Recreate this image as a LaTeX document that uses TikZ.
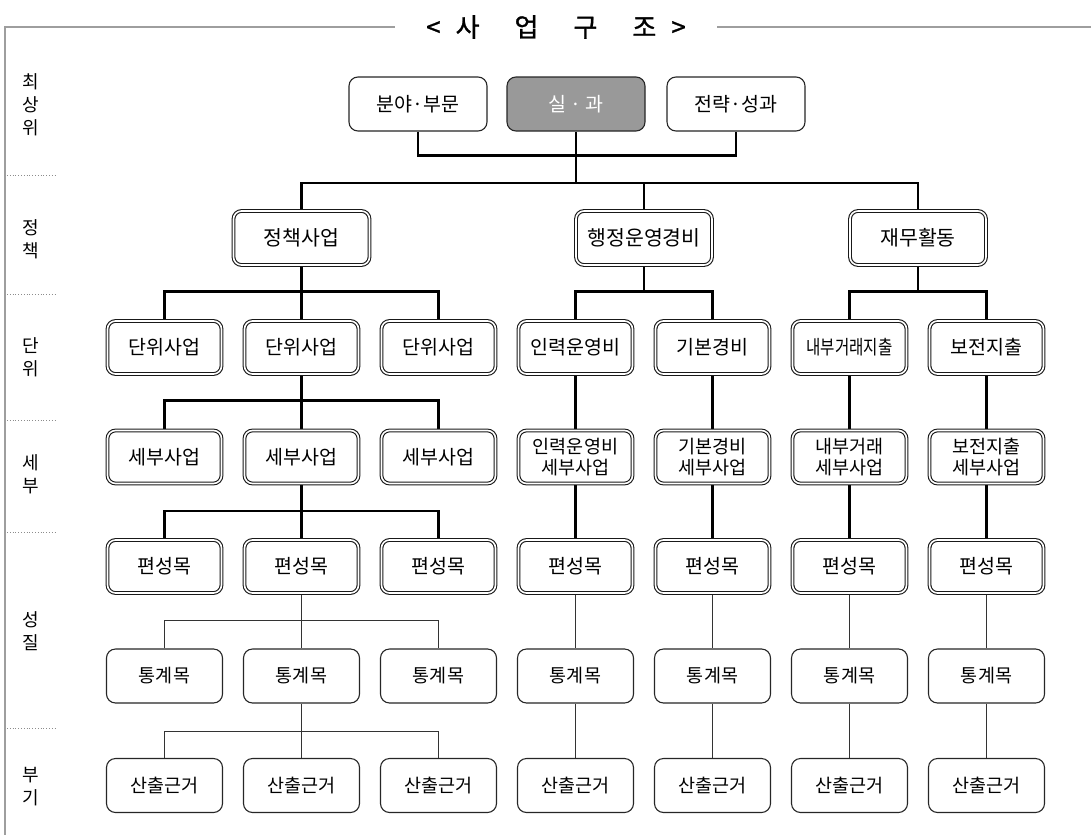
\documentclass[tikz,border=0pt]{standalone}
\usepackage{fontspec}
\setmainfont{Noto Sans CJK KR}
\newfontfamily\titlefont[FakeBold=1.2]{Noto Sans CJK KR}
\usetikzlibrary{positioning,backgrounds}

\begin{document}
\begin{tikzpicture}[x=1pt, y=1pt,
node distance=109.5pt and 137pt, on grid,
topbox/.style={rectangle, draw=black!85, fill=white, line width=1.1pt, rounded corners=9pt, minimum width=138pt, minimum height=54pt, font=\fontsize{19.5}{21}\selectfont},
headbox/.style={topbox, fill=black!40, text=white},
policybox/.style={rectangle, draw=black!90, fill=white, double=white, double distance=1.6pt, line width=1.1pt, rounded corners=8pt, minimum width=136pt, minimum height=54pt, font=\fontsize{20.5}{22}\selectfont},
levelbox/.style={policybox, minimum width=114pt, minimum height=53pt, inner sep=1pt, font=\fontsize{19.5}{20.5}\selectfont},
twoline/.style={levelbox, font=\fontsize{18.5}{20.5}\selectfont},
itembox/.style={rectangle, draw=black!85, fill=white, line width=1.1pt, rounded corners=9pt, minimum width=116pt, minimum height=54pt, font=\fontsize{18.5}{21}\selectfont},
bus/.style={draw=black, line width=2.2pt},
thinbus/.style={draw=black!80, line width=1.2pt},
sidelabel/.style={font=\fontsize{18}{23}\selectfont},
sepline/.style={draw=black!45, dotted, line width=0.8pt},
frameline/.style={draw=black!38, line width=2.2pt},
nodes = {align = center}
]
\useasboundingbox (0,0) rectangle (1091,-835);

%Title and frame
\node (title) at (556,-27) {\titlefont\fontsize{26}{28}\selectfont <\hspace{15pt}사\hspace{35pt}업\hspace{35pt}구\hspace{35pt}조\hspace{15pt}>};
\draw[frameline] ([xshift=-28pt]title.west) -| (5,-835);
\draw[frameline] ([xshift=28pt]title.east) -- (1091,-27);

%Levels
\node[sidelabel] (lvtop)    at (31,-105) {최\\상\\위};
\node[sidelabel] (lvpolicy) at (31,-239) {정\\책};
\node[sidelabel] (lvunit)   at (31,-357) {단\\위};
\node[sidelabel] (lvdetail) at (31,-474) {세\\부};
\node[sidelabel] (lvnature) at (31,-631) {성\\질};
\node[sidelabel] (lvextra)  at (31,-787) {부\\기};
\foreach \sy in {175,294,420,532,728}
  \draw[sepline] (7,-\sy) -- (57,-\sy);

%Nodes
\node[headbox]   (office)  at (576,-104)           {실 · 과};
\node[topbox]    (field)   [left=158pt of office]  {분야·부문};
\node[topbox]    (strat)   [right=160pt of office] {전략·성과};

\node[levelbox]  (u1) at (164.5,-347.5) {단위사업};
\node[levelbox]  (u2) [right=of u1] {단위사업};
\node[levelbox]  (u3) [right=of u2] {단위사업};
\node[levelbox]  (u4) [right=of u3] {인력운영비};
\node[levelbox]  (u5) [right=of u4] {기본경비};
\node[levelbox]  (u6) [right=of u5] {\scalebox{0.8}[1]{내부거래지출}};
\node[levelbox]  (u7) [right=of u6] {보전지출};

\node[policybox] (policy)  [above=of u2] {정책사업};
\node[policybox] (admin)   [above=of u4, xshift=68.5pt] {행정운영경비};
\node[policybox] (finance) [above=of u6, xshift=68.5pt] {재무활동};

\node[levelbox]  (d1) [below=of u1] {세부사업};
\node[levelbox]  (d2) [below=of u2] {세부사업};
\node[levelbox]  (d3) [below=of u3] {세부사업};
\node[twoline]   (d4) [below=of u4] {인력운영비\\세부사업};
\node[twoline]   (d5) [below=of u5] {기본경비\\세부사업};
\node[twoline]   (d6) [below=of u6] {내부거래\\세부사업};
\node[twoline]   (d7) [below=of u7] {보전지출\\세부사업};

\foreach \i in {1,...,7}{
  \node[levelbox] (f\i) [below=of d\i] {편성목};
  \node[itembox]  (s\i) [below=of f\i] {통계목};
  \node[itembox]  (b\i) [below=of s\i] {산출근거};
}

%Lines
\begin{scope}[on background layer]
\draw[bus] (field.south) |- ([yshift=-24pt]office.south) -| (strat.south);
\draw[bus] (office.south) -- ++(0,-51.5) coordinate (topbus);
\draw[bus] (policy.north) |- (topbus) -| (finance.north);
\draw[bus] (admin.north) -- (admin.north |- topbus);

\draw[bus] (policy.south) -- (u2.north);
\draw[bus] (u1.north) |- ([yshift=-26pt]policy.south) -| (u3.north);
\draw[bus] (admin.south) -- ++(0,-26);
\draw[bus] (u4.north) |- ([yshift=-26pt]admin.south) -| (u5.north);
\draw[bus] (finance.south) -- ++(0,-26);
\draw[bus] (u6.north) |- ([yshift=-26pt]finance.south) -| (u7.north);

\draw[bus] (d1.north) |- ([yshift=-26pt]u2.south) -| (d3.north);
\draw[bus] (f1.north) |- ([yshift=-27pt]d2.south) -| (f3.north);
\draw[thinbus] (s1.north) |- ([yshift=-27pt]f2.south) -| (s3.north);
\draw[thinbus] (b1.north) |- ([yshift=-28pt]s2.south) -| (b3.north);
\foreach \i in {2,4,5,6,7}{
  \draw[bus] (u\i.south) -- (d\i.north);
  \draw[bus] (d\i.south) -- (f\i.north);
  \draw[thinbus] (f\i.south) -- (s\i.north);
  \draw[thinbus] (s\i.south) -- (b\i.north);
}
\end{scope}

\end{tikzpicture}
\end{document}
